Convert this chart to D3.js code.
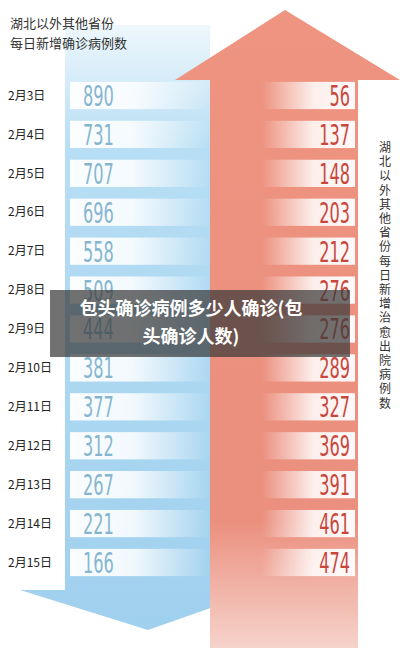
<!DOCTYPE html>
<html><head><meta charset="utf-8">
<script src="https://cdn.jsdelivr.net/npm/d3@7"></script>
<style>body{margin:0;background:#fff}</style>
</head><body>
<script>
// daily figures, Feb 3 - Feb 15
const dates = ["2月3日","2月4日","2月5日","2月6日","2月7日","2月8日","2月9日","2月10日","2月11日","2月12日","2月13日","2月14日","2月15日"]
const newCases = [890,731,707,696,558,509,444,381,377,312,267,221,166]
const recovered = [56,137,148,203,212,276,276,289,327,369,391,461,474]
const rightTitle = "湖北以外其他省份每日新增治愈出院病例数"

const W = 400, H = 648
const svg = d3.select("body").append("svg").attr("width", W).attr("height", H)
const defs = svg.append("defs")

const blue = defs.append("linearGradient").attr("id","blue").attr("x1",0).attr("x2",0).attr("y1",0).attr("y2",1)
blue.append("stop").attr("offset",0).attr("stop-color","#eef7fc")
blue.append("stop").attr("offset",0.2).attr("stop-color","#b7def4")
blue.append("stop").attr("offset",1).attr("stop-color","#9fd0ee")
const red = defs.append("linearGradient").attr("id","red").attr("x1",0).attr("x2",0).attr("y1",0).attr("y2",1)
red.append("stop").attr("offset",0).attr("stop-color","#ee9480")
red.append("stop").attr("offset",0.8).attr("stop-color","#eb8f7e")
red.append("stop").attr("offset",1).attr("stop-color","#f6d3cb")
const fadeL = defs.append("linearGradient").attr("id","fadeL")
fadeL.append("stop").attr("offset",0).attr("stop-color","#fff").attr("stop-opacity",0.95)
fadeL.append("stop").attr("offset",0.45).attr("stop-color","#fff").attr("stop-opacity",0.85)
fadeL.append("stop").attr("offset",1).attr("stop-color","#fff").attr("stop-opacity",0)
const fadeR = defs.append("linearGradient").attr("id","fadeR")
fadeR.append("stop").attr("offset",0).attr("stop-color","#fff").attr("stop-opacity",0)
fadeR.append("stop").attr("offset",0.55).attr("stop-color","#fff").attr("stop-opacity",0.85)
fadeR.append("stop").attr("offset",1).attr("stop-color","#fff").attr("stop-opacity",0.95)

// blue down arrow
svg.append("path").attr("fill","url(#blue)")
  .attr("d","M65,25 H210 V590 H262 L148,630 L20,590 H65 Z")
// red up arrow
svg.append("path").attr("fill","url(#red)")
  .attr("d","M210,648 V80 H175 L285,10 L400,80 H358 V648 Z")

const y = d3.scaleBand().domain(dates).range([78, 580]).paddingInner(0.3).paddingOuter(0.1)
const numFont = "DejaVu Sans Condensed, sans-serif"

const rows = svg.selectAll("g.row").data(dates).join("g").attr("class","row")
  .attr("transform", d => `translate(0,${y(d)})`)
rows.append("rect").attr("x",70).attr("width",140).attr("height",y.bandwidth()).attr("fill","url(#fadeL)")
rows.append("rect").attr("x",262).attr("width",93).attr("height",y.bandwidth()).attr("fill","url(#fadeR)")
rows.append("text").attr("x",8).attr("y",y.bandwidth()/2).attr("dy","0.35em")
  .attr("font-family","Noto Sans CJK SC").attr("font-size",12).attr("fill","#222").text(d => d)
// condensed numbers: squeeze horizontally
rows.append("text").attr("transform",`translate(83,${y.bandwidth()/2}) scale(0.62,1)`).attr("dy","0.36em")
  .attr("font-family",numFont).attr("font-size",29).attr("fill","#86b6cf").text((d,i) => newCases[i])
rows.append("text").attr("transform",`translate(350,${y.bandwidth()/2}) scale(0.62,1)`).attr("dy","0.36em")
  .attr("text-anchor","end")
  .attr("font-family",numFont).attr("font-size",29).attr("fill","#c8473d").text((d,i) => recovered[i])

svg.append("text").attr("font-family","Noto Sans CJK SC").attr("font-size",13).attr("fill","#333")
  .selectAll("tspan").data(["湖北以外其他省份","每日新增确诊病例数"]).join("tspan")
  .attr("x",10).attr("y",(d,i) => 28 + i*20).text(d => d)

svg.append("g").selectAll("text").data(rightTitle.split("")).join("text")
  .attr("x",385).attr("y",(d,i) => 152 + i*14.2).attr("text-anchor","middle")
  .attr("font-family","Noto Sans CJK SC").attr("font-size",12).attr("fill","#333").text(d => d)

// title overlay
svg.append("rect").attr("x",50).attr("y",290).attr("width",300).attr("height",67).attr("fill","#3a3a3a").attr("opacity",0.72)
svg.append("text").attr("font-family","Noto Sans CJK SC").attr("font-weight","bold").attr("font-size",18)
  .attr("fill","#fff").attr("text-anchor","middle")
  .selectAll("tspan").data(["包头确诊病例多少人确诊(包","头确诊人数)"]).join("tspan")
  .attr("x",191).attr("y",(d,i) => 315 + i*28).text(d => d)
</script>
</body></html>
